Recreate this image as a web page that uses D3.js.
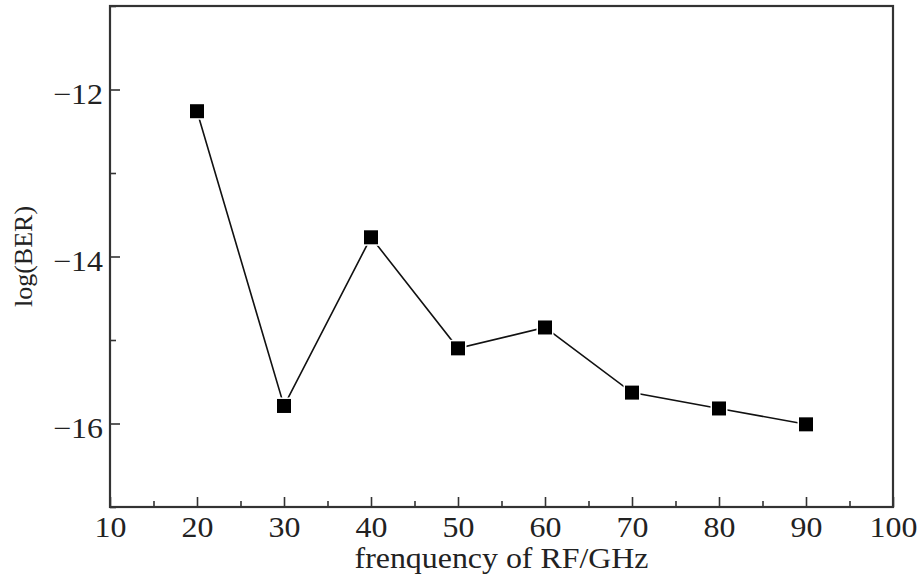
<!DOCTYPE html>
<html>
<head>
<meta charset="utf-8">
<script src="https://cdn.jsdelivr.net/npm/d3@7"></script>
<style>
  body { margin: 0; background: #fff; }
  text { font-family: "Liberation Serif", "DejaVu Serif", serif; fill: #222; }
</style>
</head>
<body>
<script>
const w = 920;
const h = 581;

// data
const freq = [20, 30, 40, 50, 60, 70, 80, 90];
const logBer = [-12.26, -15.79, -13.77, -15.10, -14.85, -15.63, -15.82, -16.01];
const xTicks = [10, 20, 30, 40, 50, 60, 70, 80, 90, 100];
const yTicks = [-16, -14, -12];

const margin = { top: 6, right: 27, bottom: 74, left: 110 };

const x = d3.scaleLinear().domain([10, 100]).range([margin.left, w - margin.right]);
const y = d3.scaleLinear().domain([-17, -11]).range([h - margin.bottom, margin.top]);

const svg = d3.select("body").append("svg")
  .attr("width", w)
  .attr("height", h);

// x axis, ticks pointing inward
const xAxis = svg.append("g")
  .attr("class", "xaxis")
  .attr("transform", `translate(0,${y(-17)})`)
  .call(d3.axisBottom(x).tickValues(xTicks).tickSize(-10).tickFormat(d3.format("d")));
xAxis.selectAll(".tick text").attr("y", 30).attr("dy", 0);
// minor x ticks
svg.append("g")
  .attr("transform", `translate(0,${y(-17)})`)
  .call(d3.axisBottom(x).tickValues(d3.range(15, 100, 10)).tickSize(-6).tickFormat(""));

// y axis
const yAxis = svg.append("g")
  .attr("transform", `translate(${x(10)},0)`)
  .call(d3.axisLeft(y).tickValues(yTicks).tickSize(-10)
    .tickFormat(d => "\u2212" + Math.abs(d)));
yAxis.selectAll(".tick text").attr("x", -7).attr("dy", 14);
svg.append("g")
  .attr("transform", `translate(${x(10)},0)`)
  .call(d3.axisLeft(y).tickValues([-17, -15, -13, -11]).tickSize(-6).tickFormat(""));

svg.selectAll(".domain").remove();
svg.selectAll(".tick line").attr("stroke", "#333").attr("stroke-width", 1.6);
svg.selectAll(".tick text")
  .style("font-size", "29px")
  .attr("fill", "#222")
  .attr("transform", "scale(1.1,1)");
yAxis.selectAll(".tick text").attr("x", -7 / 1.1);

// frame
svg.append("rect")
  .attr("x", x(10))
  .attr("y", y(-11))
  .attr("width", x(100) - x(10))
  .attr("height", y(-17) - y(-11))
  .attr("fill", "none")
  .attr("stroke", "#333")
  .attr("stroke-width", 2.2);

// line
const line = d3.line().x((d, i) => x(freq[i])).y(d => y(d));
svg.append("path")
  .datum(logBer)
  .attr("d", line)
  .attr("fill", "none")
  .attr("stroke", "#111")
  .attr("stroke-width", 1.6);

// markers
const s = 14;
svg.selectAll(".pt")
  .data(logBer)
  .enter()
  .append("rect")
  .attr("class", "pt")
  .attr("x", (d, i) => x(freq[i]) - s / 2)
  .attr("y", d => y(d) - s / 2)
  .attr("width", s)
  .attr("height", s)
  .attr("fill", "#000")
  .attr("stroke", "#fff")
  .attr("stroke-width", 3)
  .attr("paint-order", "stroke");

// axis labels
const cx = (x(10) + x(100)) / 2;
svg.append("text")
  .attr("transform", `translate(${cx},568) scale(1.1,1)`)
  .attr("text-anchor", "middle")
  .style("font-size", "29px")
  .text("frenquency of RF/GHz");

svg.append("text")
  .attr("transform", `translate(32,${(y(-11) + y(-17)) / 2}) rotate(-90)`)
  .attr("text-anchor", "middle")
  .style("font-size", "26px")
  .text("log(BER)");
</script>
</body>
</html>
